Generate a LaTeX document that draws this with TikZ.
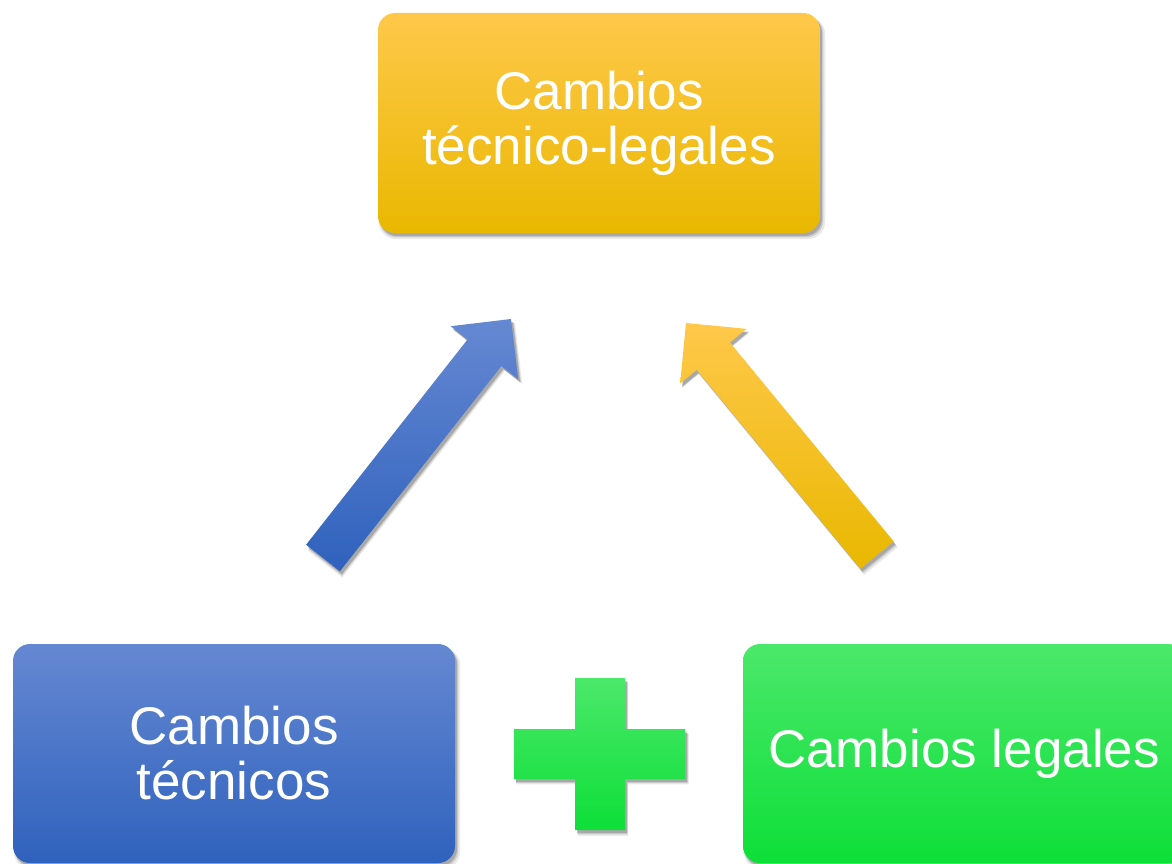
\documentclass[tikz,border=0pt]{standalone}
\usepackage{fontspec}
\setmainfont{Liberation Sans}
\usetikzlibrary{calc,shadows}
\definecolor{orTop}{HTML}{FFC84A}
\definecolor{orMid}{HTML}{FFC400}
\definecolor{orBot}{HTML}{E9B800}
\definecolor{blTop}{HTML}{6588D2}
\definecolor{blMid}{HTML}{4372C8}
\definecolor{blBot}{HTML}{2F62BD}
\definecolor{grTop}{HTML}{4BE86A}
\definecolor{grMid}{HTML}{1AE846}
\definecolor{grBot}{HTML}{0DDF38}
\newcommand\blockarrow[3]{%
  \coordinate (#1-n) at ($(#2)!43pt!(#1)$);
  \path[#3]
    ($(#1)!21.5pt!90:(#2)$) --
    ($(#1-n)!21.5pt!90:(#2)$) --
    ($(#1-n)!43pt!90:(#2)$) --
    (#2) --
    ($(#1-n)!43pt!-90:(#2)$) --
    ($(#1-n)!21.5pt!-90:(#2)$) --
    ($(#1)!21.5pt!-90:(#2)$) -- cycle;}
\begin{document}
\begin{tikzpicture}[x=1pt,y=-1pt,
  softshadow/.style={
    drop shadow={shadow xshift=3pt,shadow yshift=-5pt,shadow scale=1.01,opacity=0.08,fill=black},
    drop shadow={shadow xshift=2.5pt,shadow yshift=-4pt,shadow scale=1.004,opacity=0.12,fill=black},
    drop shadow={shadow xshift=2pt,shadow yshift=-3pt,opacity=0.18,fill=black}},
  box/.style={rounded corners=17pt, minimum width=442pt, minimum height=220pt,
    inner sep=0pt, text=white, align=center,
    font=\fontsize{53}{55}\selectfont, softshadow},
  orangeshade/.style={top color=orTop, middle color=orMid, bottom color=orBot},
  blueshade/.style={top color=blTop, middle color=blMid, bottom color=blBot},
  greenshade/.style={top color=grTop, middle color=grMid, bottom color=grBot}]
\useasboundingbox (0,0) rectangle (1172,864);
\clip (0,0) rectangle (1172,864);
\fill[white] (0,0) rectangle (1172,864);

\node[box, orangeshade] (top) at (599,123) {Cambios\\técnico-legales};
\node[box, blueshade, minimum height=219pt] (tec) at (234,753.5) {Cambios\\técnicos};
\node[box, greenshade, minimum height=219pt] (leg) at (964,753.5) {Cambios legales};

% block arrows
\coordinate (bt) at (323,558);
\coordinate (bh) at (511,319);
\coordinate (yt) at (877,555);
\coordinate (yh) at (686,323);
\blockarrow{bt}{bh}{blueshade, softshadow}
\blockarrow{yt}{yh}{orangeshade, softshadow}

% plus sign
\coordinate (plus) at (599.5,754);
\path[greenshade, softshadow, shift={(plus)}]
  (-24.5,-76) -- (25.5,-76) -- (25.5,-25) -- (85.5,-25) -- (85.5,25) --
  (25.5,25) -- (25.5,76) -- (-24.5,76) -- (-24.5,25) -- (-85.5,25) --
  (-85.5,-25) -- (-24.5,-25) -- cycle;
\end{tikzpicture}
\end{document}
